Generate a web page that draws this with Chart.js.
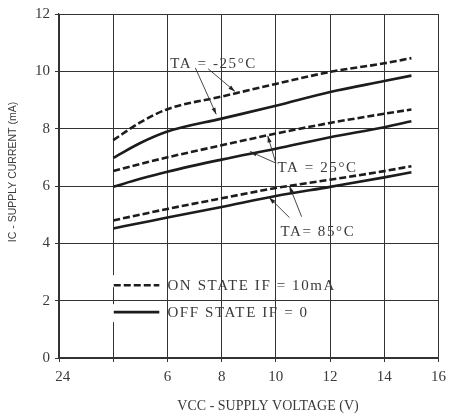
<!DOCTYPE html>
<html>
<head>
<meta charset="utf-8">
<script src="https://cdn.jsdelivr.net/npm/chart.js@4.4.0/dist/chart.umd.min.js"></script>
<style>
  body { margin: 0; background: #fff; }
  #wrap { width: 452px; height: 416px; position: relative; }
</style>
</head>
<body>
<div id="wrap"><canvas id="chart"></canvas></div>
<script>
// Напряжение питания (В)
const vcc = [4, 5, 6, 8, 10, 12, 14, 15];
// Ток потребления (мА), ON = IF 10mA (пунктир), OFF = IF 0 (сплошная)
const onCold = [7.6, 8.22, 8.68, 9.12, 9.56, 9.98, 10.28, 10.46];
const offCold = [6.98, 7.5, 7.9, 8.35, 8.8, 9.28, 9.66, 9.85];
const onRoom = [6.52, 6.77, 7.0, 7.42, 7.83, 8.2, 8.52, 8.67];
const offRoom = [5.97, 6.25, 6.5, 6.92, 7.3, 7.7, 8.05, 8.26];
const onHot = [4.8, 5.0, 5.2, 5.57, 5.93, 6.22, 6.52, 6.69];
const offHot = [4.52, 4.71, 4.9, 5.27, 5.65, 5.97, 6.3, 6.48];

const xTicks = [2, 4, 6, 8, 10, 12, 14, 16];
const xTickLabels = ["  24", "", "6", "8", "10", "12", "14", "16"];
const yTicks = [0, 2, 4, 6, 8, 10, 12];

const INK = "#1c1c1c";
const TEXT = "#3a3a3a";
const GRID = "#333";

function series(values, dashed) {
  return {
    data: vcc.map((v, i) => ({ x: v, y: values[i] })),
    borderColor: INK,
    borderWidth: 2.6,
    borderDash: dashed ? [7, 3] : [],
    cubicInterpolationMode: "monotone",
    pointRadius: 0,
    fill: false,
  };
}

// Подписи, стрелки и легенда
const notes = {
  id: "notes",
  beforeDatasetsDraw(chart) {
    const { ctx, scales: { x, y } } = chart;
    // разрывы сетки у линий легенды
    ctx.save();
    ctx.fillStyle = "#fff";
    const gx = x.getPixelForValue(4);
    ctx.fillRect(gx - 2, y.getPixelForValue(2.54) - 10, 4, 12);
    ctx.fillRect(gx - 2, y.getPixelForValue(1.6) - 8, 4, 18);
    ctx.restore();
  },
  afterDatasetsDraw(chart) {
    const { ctx, scales: { x, y } } = chart;
    const px = (v) => x.getPixelForValue(v);
    const py = (v) => y.getPixelForValue(v);

    ctx.save();
    ctx.fillStyle = TEXT;
    ctx.font = "15px 'Liberation Serif'";
    ctx.letterSpacing = "1.6px";
    ctx.textBaseline = "middle";
    ctx.textAlign = "left";
    ctx.fillText("TA = -25°C", px(6.1), py(10.26));
    ctx.fillText("TA = 25°C", px(10.06), py(6.64));
    ctx.fillText("TA= 85°C", px(10.17), py(4.38));

    // стрелки
    function arrow(x0, y0, x1, y1) {
      const ax = px(x0), ay = py(y0), bx = px(x1), by = py(y1);
      ctx.strokeStyle = "#333";
      ctx.lineWidth = 0.9;
      ctx.beginPath();
      ctx.moveTo(ax, ay);
      ctx.lineTo(bx, by);
      ctx.stroke();
      const a = Math.atan2(by - ay, bx - ax);
      ctx.fillStyle = "#222";
      ctx.beginPath();
      ctx.moveTo(bx, by);
      ctx.lineTo(bx - 7 * Math.cos(a - 0.3), by - 7 * Math.sin(a - 0.3));
      ctx.lineTo(bx - 7 * Math.cos(a + 0.3), by - 7 * Math.sin(a + 0.3));
      ctx.closePath();
      ctx.fill();
    }
    arrow(7.03, 10.12, 7.8, 8.5);
    arrow(7.5, 10.09, 8.49, 9.3);
    arrow(10.0, 6.8, 9.7, 7.75);
    arrow(10.0, 6.8, 9.05, 7.2);
    arrow(10.5, 4.9, 9.75, 5.6);
    arrow(10.95, 4.93, 10.5, 6.0);

    // легенда
    const lx0 = px(4.02), lx1 = px(5.7);
    ctx.strokeStyle = INK;
    ctx.lineWidth = 2.6;
    ctx.setLineDash([7, 3]);
    ctx.beginPath();
    ctx.moveTo(lx0, py(2.54));
    ctx.lineTo(lx1, py(2.54));
    ctx.stroke();
    ctx.setLineDash([]);
    ctx.beginPath();
    ctx.moveTo(lx0, py(1.6));
    ctx.lineTo(lx1, py(1.6));
    ctx.stroke();
    ctx.fillStyle = TEXT;
    ctx.fillText("ON STATE IF = 10mA", px(6.0), py(2.5));
    ctx.fillText("OFF STATE IF = 0", px(6.0), py(1.56));

    // подписи осей
    ctx.letterSpacing = "0px";
    ctx.font = "14px 'Liberation Serif'";
    ctx.textAlign = "center";
    ctx.fillText("VCC - SUPPLY VOLTAGE (V)", 268, 406);

    ctx.translate(13, 172);
    ctx.rotate(-Math.PI / 2);
    ctx.font = "10.5px 'Liberation Sans'";
    ctx.fillText("IC - SUPPLY CURRENT (mA)", 0, 0);
    ctx.restore();
  },
};

new Chart(document.getElementById("chart"), {
  type: "line",
  data: {
    datasets: [
      series(onCold, true),
      series(offCold, false),
      series(onRoom, true),
      series(offRoom, false),
      series(onHot, true),
      series(offHot, false),
    ],
  },
  options: {
    responsive: true,
    maintainAspectRatio: false,
    animation: false,
    layout: { padding: { left: 0, right: 9, top: 13, bottom: 0 } },
    scales: {
      x: {
        type: "linear",
        min: 2,
        max: 16,
        afterBuildTicks: (s) => { s.ticks = xTicks.map((v) => ({ value: v })); },
        afterFit: (s) => { s.height = 58; },
        grid: { color: GRID, lineWidth: 1, tickLength: 4, tickColor: GRID },
        border: { color: GRID, width: 1.2 },
        ticks: {
          color: TEXT,
          font: { family: "'Liberation Serif'", size: 15 },
          padding: 6,
          maxRotation: 0,
          autoSkip: false,
          callback: (v) => xTickLabels[xTicks.indexOf(v)],
        },
      },
      y: {
        min: 0,
        max: 12,
        afterBuildTicks: (s) => { s.ticks = yTicks.map((v) => ({ value: v })); },
        afterFit: (s) => { s.width = 59; },
        grid: { color: GRID, lineWidth: 1, tickLength: 4, tickColor: GRID },
        border: { color: GRID, width: 1.2 },
        ticks: {
          color: TEXT,
          font: { family: "'Liberation Serif'", size: 15 },
          padding: 5,
          autoSkip: false,
        },
      },
    },
    plugins: { legend: { display: false }, tooltip: { enabled: false } },
  },
  plugins: [notes],
});
</script>
</body>
</html>
